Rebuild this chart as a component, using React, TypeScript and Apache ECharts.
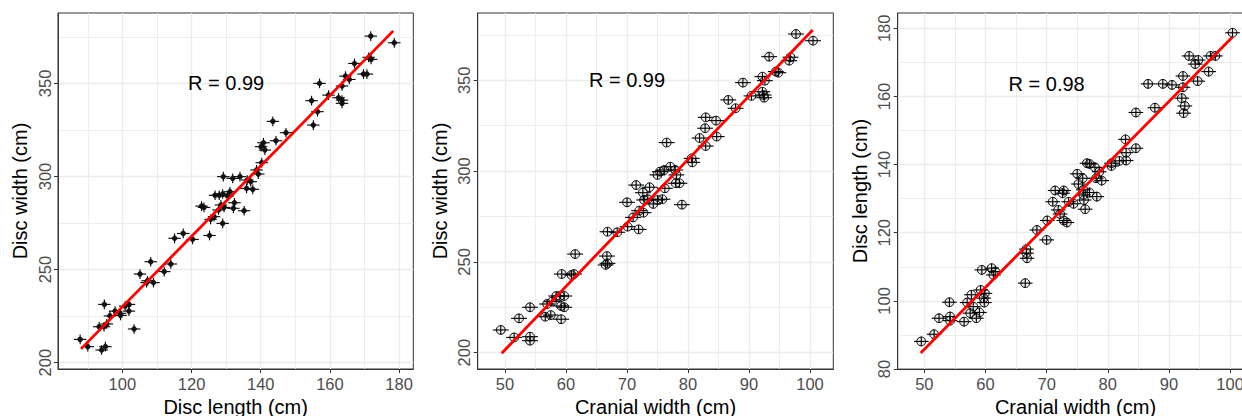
import React, { useEffect, useRef } from "react";
import * as echarts from "echarts";

// ---------- Panel 1: Disc width vs Disc length ----------
const P1_DISC_LENGTH = [
  87.8, 90.0, 94.0, 95.1, 94.8, 93.3, 94.7, 95.5, 96.4, 97.9, 99.3, 99.5, 100.8, 101.9, 101.9, 103.4,
  105.1, 107.0, 108.2, 109.0, 107.3, 112.1, 114.0, 115.1, 117.6, 120.3, 122.9, 123.6, 125.2, 125.5,
  126.5, 126.8, 128.0, 129.0, 129.2, 127.8, 128.5, 129.4, 129.0, 130.4, 131.1, 131.9, 132.1, 132.4,
  134.0, 135.2, 135.9, 136.1, 137.7, 137.1, 138.8, 139.3, 140.3, 140.1, 140.8, 141.2, 143.5, 144.4,
  147.3, 154.7, 155.2, 156.4, 157.0, 159.6, 162.5, 163.5, 163.5, 163.5, 164.5, 165.6, 167.1, 169.7,
  170.7, 171.2, 171.9, 171.8, 178.6,
];
const P1_DISC_WIDTH = [
  212.5, 208.6, 206.8, 208.6, 231.3, 219.3, 219.3, 220.8, 225.1, 227.7, 226.5, 225.4, 230.4, 231.3, 227.7, 218.1,
  247.6, 243.0, 254.2, 243.0, 244.0, 248.9, 253.0, 266.8, 269.4, 266.2, 284.1, 283.4, 268.3, 277.0,
  278.4, 289.9, 289.9, 290.6, 299.9, 282.0, 284.7, 283.4, 274.8, 289.5, 291.8, 299.0, 282.9, 285.9,
  299.9, 281.6, 293.6, 298.1, 293.1, 297.2, 303.5, 301.3, 307.4, 316.0, 318.1, 314.2, 329.6, 319.2,
  323.5, 340.7, 327.6, 334.8, 350.0, 343.7, 342.3, 341.0, 339.3, 348.6, 353.9, 352.1, 360.7, 355.0,
  355.0, 364.0, 362.9, 375.4, 371.8,
];

// ---------- Panel 2: Disc width vs Cranial width ----------
const P2_CRANIAL_WIDTH = [
  49.3, 51.5, 52.3, 54.1, 54.1, 54.1, 56.6, 57.5, 56.9, 57.7, 58.4, 59.0, 59.2, 59.7, 59.2, 59.7,
  59.3, 60.9, 61.3, 61.5, 66.7, 66.5, 66.8, 66.8, 68.4, 70.1, 70.0, 71.0, 71.5, 71.9, 72.0, 72.6,
  72.7, 72.8, 73.4, 73.7, 74.3, 75.0, 75.0, 75.4, 75.8, 76.2, 76.5, 76.1, 77.1, 77.9, 78.1, 78.0,
  78.6, 79.0, 80.6, 80.7, 81.9, 82.8, 82.9, 82.9, 84.6, 84.7, 86.6, 87.8, 89.0, 90.4, 92.2, 92.6,
  92.2, 92.4, 92.5, 93.3, 94.4, 94.8, 96.6, 96.8, 97.7, 100.5,
];
const P2_DISC_WIDTH = [
  212.5, 208.4, 218.9, 208.8, 206.6, 225.0, 219.8, 220.7, 226.8, 228.1, 231.2, 231.2, 225.7, 225.0, 218.4, 231.2,
  243.3, 242.8, 243.3, 254.3, 253.2, 248.3, 249.2, 266.6, 266.3, 269.4, 282.8, 274.5, 292.3, 267.9, 278.2, 288.1,
  277.1, 284.1, 284.5, 291.1, 281.9, 297.9, 284.1, 299.7, 284.5, 290.5, 315.7, 300.6, 302.4, 300.6, 297.9, 293.3,
  293.3, 281.5, 307.0, 304.8, 318.2, 323.6, 329.6, 313.8, 327.8, 319.0, 339.2, 334.6, 348.7, 341.4, 352.0, 349.8,
  343.7, 341.9, 340.4, 363.0, 354.8, 354.2, 360.8, 362.7, 375.5, 371.8,
];

// ---------- Panel 3: Disc length vs Cranial width ----------
const P3_CRANIAL_WIDTH = [
  49.5, 51.6, 52.4, 54.1, 54.2, 54.2, 56.5, 57.0, 57.5, 57.7, 58.0, 58.5, 59.0, 59.2, 59.4, 59.7,
  59.8, 59.9, 61.0, 61.3, 61.6, 66.5, 66.7, 66.7, 66.8, 68.4, 70.0, 70.1, 71.0, 71.4, 71.9, 72.2,
  72.6, 72.8, 72.8, 73.3, 73.6, 74.4, 75.0, 75.2, 75.9, 76.0, 76.0, 76.1, 76.3, 76.6, 77.0, 77.0,
  77.9, 78.1, 78.2, 78.6, 79.0, 80.6, 80.6, 81.9, 82.9, 83.0, 83.0, 84.6, 84.6, 86.6, 87.7, 89.0,
  90.5, 92.3, 92.3, 92.1, 92.6, 92.4, 93.3, 94.3, 94.8, 94.7, 96.5, 96.8, 97.6, 100.4,
];
const P3_DISC_LENGTH = [
  88.1, 90.2, 94.9, 99.6, 95.4, 94.2, 93.9, 99.5, 96.4, 101.8, 98.3, 94.9, 96.6, 103.2, 109.1, 100.8,
  99.5, 102.2, 109.6, 107.6, 108.6, 105.2, 115.2, 114.0, 112.5, 120.8, 117.9, 123.6, 129.1, 132.4, 126.7, 125.5,
  131.6, 132.4, 123.6, 123.0, 129.1, 128.5, 137.3, 134.3, 136.0, 132.6, 131.1, 129.6, 126.9, 140.4, 140.2, 131.8,
  139.2, 136.0, 130.6, 137.9, 135.3, 140.4, 139.6, 141.1, 147.4, 143.5, 141.2, 155.3, 144.8, 163.7, 156.7, 163.7,
  163.4, 166.0, 162.7, 159.5, 157.2, 155.1, 171.9, 169.5, 170.7, 164.5, 167.3, 171.9, 171.9, 178.7,
];

// Fitted regression lines (end points) and correlation labels
const FIT_1 = [[88.06, 207.4], [178.3, 378.2]];
const FIT_2 = [[49.46, 199.7], [100.44, 377.7]];
const FIT_3 = [[49.4, 84.7], [100.44, 177.5]];
const R_LABELS = ["R = 0.99", "R = 0.99", "R = 0.98"];
const R_AT = [[130, 350], [70, 350], [70, 163.8]];

// Tick values
const X1_MAJOR = [100, 120, 140, 160, 180];
const X1_MINOR = [90, 110, 130, 150, 170];
const Y12_MAJOR = [200, 250, 300, 350];
const Y12_MINOR = [225, 275, 325, 375];
const X23_MAJOR = [50, 60, 70, 80, 90, 100];
const X23_MINOR = [55, 65, 75, 85, 95];
const Y3_MAJOR = [80, 100, 120, 140, 160, 180];
const Y3_MINOR = [90, 110, 130, 150, 170];

const FONT = "Liberation Sans, Arial, Helvetica, sans-serif";

export default function App() {
  const ref = useRef<HTMLDivElement>(null);

  useEffect(() => {
    if (!ref.current) return;
    const chart = echarts.init(ref.current, undefined, { renderer: "svg" });

    const grids = [
      { left: 58, top: 13, width: 355.3, height: 356 },
      { left: 477.7, top: 13, width: 355.6, height: 356 },
      { left: 897.7, top: 13, width: 355.6, height: 356 },
    ].map((g) => ({
      ...g,
      show: true,
      borderColor: "#333333",
      borderWidth: 1,
      backgroundColor: "#ffffff",
      containLabel: false,
      outerBoundsMode: "none",
    }));

    const majorAxis = (
      gridIndex: number,
      min: number,
      max: number,
      ticks: number[],
      name: string,
      isY: boolean
    ) => ({
      type: "value",
      gridIndex,
      min,
      max,
      position: isY ? "left" : "bottom",
      name,
      nameLocation: "middle",
      nameGap: isY ? 28 : 26,
      nameRotate: isY ? 90 : 0,
      nameTextStyle: { fontSize: 20, color: "#000000", fontFamily: FONT },
      axisLine: { show: true, onZero: false, lineStyle: { color: "#333333", width: 1 } },
      axisTick: { show: true, length: 4, customValues: ticks, lineStyle: { color: "#333333", width: 1 } },
      axisLabel: {
        customValues: ticks,
        color: "#4D4D4D",
        fontSize: 16.5,
        fontFamily: FONT,
        margin: isY ? 5 : 6,
        rotate: isY ? 90 : 0,
      },
      splitLine: { show: true, lineStyle: { color: "#EBEBEB", width: 1.3 } },
    });

    const minorAxis = (gridIndex: number, min: number, max: number, ticks: number[], isY: boolean) => ({
      type: "value",
      gridIndex,
      min,
      max,
      position: isY ? "left" : "bottom",
      axisLine: { show: false, onZero: false },
      axisTick: { show: false, customValues: ticks },
      axisLabel: { show: false, customValues: ticks },
      splitLine: { show: true, lineStyle: { color: "#EBEBEB", width: 0.9 } },
    });

    const xAxis = [
      majorAxis(0, 81.4, 184.1, X1_MAJOR, "Disc length (cm)", false),
      minorAxis(0, 81.4, 184.1, X1_MINOR, false),
      majorAxis(1, 45.52, 103.82, X23_MAJOR, "Cranial width (cm)", false),
      minorAxis(1, 45.52, 103.82, X23_MINOR, false),
      majorAxis(2, 45.64, 103.8, X23_MAJOR, "Cranial width (cm)", false),
      minorAxis(2, 45.64, 103.8, X23_MINOR, false),
    ];
    const yAxis = [
      majorAxis(0, 196.6, 387.8, Y12_MAJOR, "Disc width (cm)", true),
      minorAxis(0, 196.6, 387.8, Y12_MINOR, true),
      majorAxis(1, 191.0, 387.06, Y12_MAJOR, "Disc width (cm)", true),
      minorAxis(1, 191.0, 387.06, Y12_MINOR, true),
      majorAxis(2, 80.0, 184.5, Y3_MAJOR, "Disc length (cm)", true),
      minorAxis(2, 80.0, 184.5, Y3_MINOR, true),
    ];

    const panels = [
      { xs: P1_DISC_LENGTH, ys: P1_DISC_WIDTH, xe: 1.8, ye: 2.6, open: false, fit: FIT_1 },
      { xs: P2_CRANIAL_WIDTH, ys: P2_DISC_WIDTH, xe: 1.3, ye: 2.4, open: true, fit: FIT_2 },
      { xs: P3_CRANIAL_WIDTH, ys: P3_DISC_LENGTH, xe: 1.2, ye: 1.4, open: true, fit: FIT_3 },
    ];

    const series: any[] = [];
    panels.forEach((p, i) => {
      const data = p.xs.map((x, k) => [x, p.ys[k], p.xe, p.ye]);
      series.push({
        type: "custom",
        xAxisIndex: 2 * i,
        yAxisIndex: 2 * i,
        data,
        z: 3,
        renderItem: (params: any, api: any) => {
          const x = api.value(0);
          const y = api.value(1);
          const xe = api.value(2);
          const ye = api.value(3);
          const c = api.coord([x, y]);
          const l = api.coord([x - xe, y]);
          const r = api.coord([x + xe, y]);
          const t = api.coord([x, y + ye]);
          const b = api.coord([x, y - ye]);
          const rad = p.open ? 4.4 : 2.4;
          const lx = Math.min(l[0], c[0] - rad);
          const rx = Math.max(r[0], c[0] + rad);
          const ty = Math.min(t[1], c[1] - rad);
          const by = Math.max(b[1], c[1] + rad);
          const lineStyle = { stroke: "#000000", lineWidth: 1.1 };
          return {
            type: "group",
            children: [
              { type: "line", shape: { x1: lx, y1: c[1], x2: rx, y2: c[1] }, style: lineStyle },
              { type: "line", shape: { x1: c[0], y1: ty, x2: c[0], y2: by }, style: lineStyle },
              {
                type: "circle",
                shape: { cx: c[0], cy: c[1], r: rad },
                style: p.open
                  ? { fill: "rgba(0,0,0,0.08)", stroke: "#000000", lineWidth: 1 }
                  : { fill: "#111111", stroke: "#111111", lineWidth: 0.8 },
              },
            ],
          };
        },
      });
      series.push({
        type: "line",
        xAxisIndex: 2 * i,
        yAxisIndex: 2 * i,
        data: p.fit,
        symbol: "none",
        z: 5,
        lineStyle: { color: "#FF0000", width: 2.8 },
        silent: true,
      });
      series.push({
        type: "custom",
        xAxisIndex: 2 * i,
        yAxisIndex: 2 * i,
        data: [R_AT[i]],
        z: 6,
        renderItem: (params: any, api: any) => {
          const c = api.coord([api.value(0), api.value(1)]);
          return {
            type: "text",
            x: c[0],
            y: c[1],
            style: {
              text: R_LABELS[i],
              fontSize: 20,
              fontFamily: FONT,
              fill: "#000000",
              align: "center",
              verticalAlign: "middle",
            },
          };
        },
      });
    });

    chart.setOption({
      animation: false,
      backgroundColor: "#ffffff",
      grid: grids,
      xAxis,
      yAxis,
      series,
    });

    return () => chart.dispose();
  }, []);

  return (
    <div
      ref={ref}
      style={{ position: "fixed", left: 0, top: 0, width: 1242, height: 416, background: "#fff" }}
    />
  );
}
